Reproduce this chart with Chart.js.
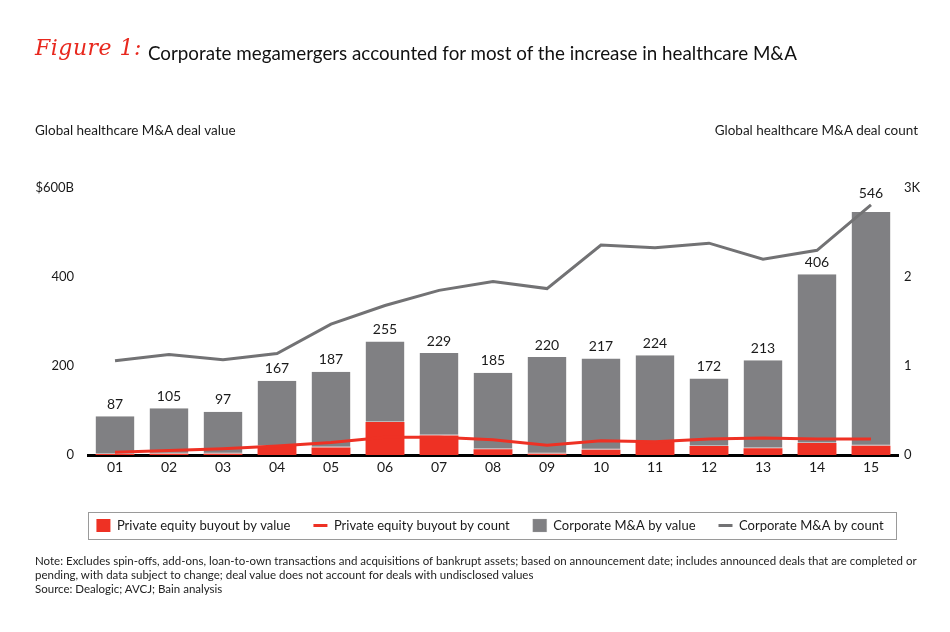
<!DOCTYPE html>
<html>
<head>
<meta charset="utf-8">
<script src="https://cdn.jsdelivr.net/npm/chart.js@4.4.1/dist/chart.umd.min.js"></script>
<style>
  html, body { margin: 0; padding: 0; background: #fff; }
  body { width: 950px; height: 632px; position: relative; overflow: hidden; font-family: Lato, "Open Sans", sans-serif; color: #1a1a1a; }
  #wrap { position: absolute; left: 0; top: 0; width: 950px; height: 632px; }
  .abs { position: absolute; white-space: nowrap; }
  #fig { left: 35px; top: 35px; font-family: "DejaVu Serif", serif; font-style: italic; color: #e8281e; font-size: 22px; letter-spacing: 0.5px; }
  #title { left: 148px; top: 41px; font-size: 18.8px; color: #111; }
  #ltitle { left: 35px; top: 122px; font-size: 13.5px; }
  #rtitle { right: 32px; top: 122px; font-size: 13.5px; }
  #notes { left: 35px; top: 554px; font-size: 11.5px; line-height: 14px; color: #222; }
</style>
</head>
<body>
<div id="wrap"><canvas id="c" width="950" height="632"></canvas></div>
<div class="abs" id="fig">Figure 1:</div>
<div class="abs" id="title">Corporate megamergers accounted for most of the increase in healthcare M&amp;A</div>
<div class="abs" id="ltitle">Global healthcare M&amp;A deal value</div>
<div class="abs" id="rtitle">Global healthcare M&amp;A deal count</div>
<div class="abs" id="notes">Note: Excludes spin-offs, add-ons, loan-to-own transactions and acquisitions of bankrupt assets; based on announcement date; includes announced deals that are completed or<br>pending, with data subject to change; deal value does not account for deals with undisclosed values<br>Source: Dealogic; AVCJ; Bain analysis</div>
<script>
const years = ["01","02","03","04","05","06","07","08","09","10","11","12","13","14","15"];
const totalValue = [87,105,97,167,187,255,229,185,220,217,224,172,213,406,546];
const peValue = [2,3,3,20,17,74,44,13,3,12,29,20,15,27,21];
const corpValue = [85,102,94,147,170,181,185,172,217,205,195,152,198,379,525];
const peCount = [0.03,0.05,0.07,0.10,0.14,0.20,0.20,0.17,0.11,0.16,0.15,0.18,0.19,0.18,0.18];
const corpCount = [1.06,1.13,1.07,1.14,1.47,1.68,1.85,1.95,1.87,2.36,2.33,2.38,2.20,2.30,2.81];
const leftTicks = {0:"0",200:"200",400:"400",600:"$600B"};
const rightTicks = {0:"0",1:"1",2:"2",3:"3K"};

const RED = "#ee3124", GRAY = "#808083", GRAYLINE = "#727274";

const totalsPlugin = {
  id: "totals",
  afterDatasetsDraw(chart) {
    const meta = chart.getDatasetMeta(2);
    const lineMeta = chart.getDatasetMeta(3);
    const ctx = chart.ctx;
    ctx.save();
    ctx.font = "14px Lato, sans-serif";
    ctx.fillStyle = "#1a1a1a";
    ctx.textAlign = "center";
    ctx.textBaseline = "bottom";
    meta.data.forEach((el, i) => {
      let y = el.y - 5;
      const ly = lineMeta.data[i].y;
      if (ly > y - 18 && ly < el.y) y = ly - 4;
      ctx.fillText(String(totalValue[i]), el.x, y);
    });
    ctx.restore();
  }
};
const legendBox = {
  id: "legendBox",
  afterDraw(chart) {
    const hb = chart.legend.legendHitBoxes;
    if (!hb || !hb.length) return;
    const cy = hb[0].top + hb[0].height / 2;
    const ctx = chart.ctx, ca = chart.chartArea;
    ctx.save();
    ctx.strokeStyle = "#9a9a9a";
    ctx.lineWidth = 1;
    ctx.strokeRect(ca.left + 0.5, Math.round(cy - 13.5) + 0.5, ca.right - ca.left - 2, 27);
    ctx.restore();
  }
};

new Chart(document.getElementById("c"), {
  data: {
    labels: years,
    datasets: [
      { type: "bar", label: "Private equity buyout by value", data: peValue, backgroundColor: RED, yAxisID: "y", stack: "v", order: 2, pointStyle: "rect", borderWidth: 0 },
      { type: "line", label: "Private equity buyout by count", data: peCount, borderColor: RED, backgroundColor: RED, borderWidth: 3, pointRadius: 0, yAxisID: "y2", order: 0, pointStyle: "line", tension: 0 },
      { type: "bar", label: "Corporate M&A by value", data: corpValue, backgroundColor: GRAY, borderColor: "#b9b9bb", borderWidth: {bottom: 1, top: 0, left: 0, right: 0}, borderSkipped: false, yAxisID: "y", stack: "v", order: 2, pointStyle: "rect" },
      { type: "line", label: "Corporate M&A by count", data: corpCount, borderColor: GRAYLINE, backgroundColor: GRAYLINE, borderWidth: 3, pointRadius: 0, yAxisID: "y2", order: 1, pointStyle: "line", tension: 0 }
    ]
  },
  options: {
    responsive: false,
    animation: false,
    devicePixelRatio: 1,
    layout: { padding: { top: 188, bottom: 90, left: 30, right: 0 } },
    plugins: {
      tooltip: { enabled: false },
      legend: {
        position: "bottom",
        labels: {
          usePointStyle: true,
          pointStyleWidth: 14,
          boxHeight: 14,
          padding: 23,
          color: "#1a1a1a",
          font: { family: "Lato, sans-serif", size: 13 },
          sort: (a, b) => a.datasetIndex - b.datasetIndex
        }
      }
    },
    scales: {
      x: {
        stacked: true,
        categoryPercentage: 1,
        barPercentage: 0.65,
        grid: { display: false, drawTicks: false },
        border: { display: true, color: "#000", width: 3 },
        ticks: { color: "#1a1a1a", font: { family: "Lato, sans-serif", size: 14 }, padding: 4 },
        afterFit: s => { s.height = 41; }
      },
      y: {
        position: "left",
        stacked: true,
        min: 0, max: 600,
        grid: { display: false, drawTicks: false },
        border: { display: false },
        ticks: { stepSize: 200, padding: 14, color: "#1a1a1a", font: { family: "Lato, sans-serif", size: 13 }, callback: v => leftTicks[v] },
        afterFit: s => { s.width = 58; }
      },
      y2: {
        position: "right",
        min: 0, max: 3,
        grid: { display: false, drawTicks: false },
        border: { display: false },
        ticks: { stepSize: 1, padding: 6, color: "#1a1a1a", font: { family: "Lato, sans-serif", size: 13 }, callback: v => rightTicks[v] },
        afterFit: s => { s.width = 52; }
      }
    }
  },
  plugins: [totalsPlugin, legendBox]
});
</script>
</body>
</html>
